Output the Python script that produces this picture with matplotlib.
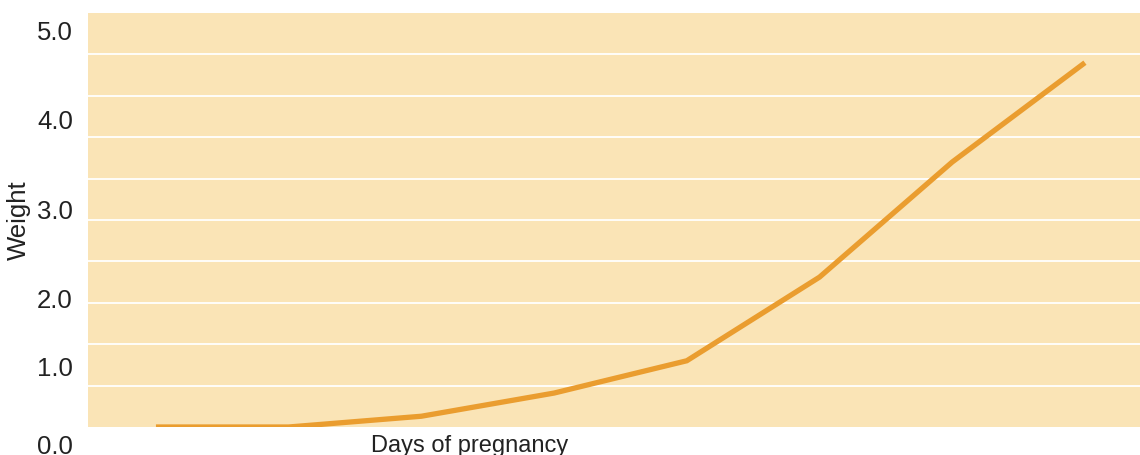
import numpy as np
import matplotlib
matplotlib.use("Agg")
import matplotlib.pyplot as plt
import matplotlib.transforms as mtransforms

# Data
stages = [0, 1, 2, 3, 4, 5, 6, 7]
weight = [0.0, 0.0, 0.13, 0.41, 0.80, 1.81, 3.20, 4.40]

# Y labels as they appear on the reference (positions in data units)
ylabel_texts = ["5.0", "4.0", "3.0", "2.0", "1.0", "0.0"]
ylabel_pos = [4.674, 3.599, 2.512, 1.437, 0.616, -0.326]
grid_levels = [0.5, 1.0, 1.5, 2.0, 2.5, 3.0, 3.5, 4.0, 4.5]

plt.rcParams['font.family'] = ['Liberation Sans', 'DejaVu Sans']

W, H = 1140, 455
fig = plt.figure(figsize=(W / 100, H / 100), dpi=100)
ax = fig.add_axes([88 / W, (H - 427) / H, (W - 88) / W, (427 - 13) / H])
ax.set_facecolor('#FAE4B6')
for s in ax.spines.values():
    s.set_visible(False)

ax.set_xlim(-0.512, 7.415)
ax.set_ylim(0, 5)
ax.set_xticks([])
ax.set_yticks(grid_levels)
ax.set_yticklabels([])
ax.tick_params(axis='y', length=0)
ax.grid(axis='y', color='white', linewidth=1.3)
ax.set_axisbelow(True)

ax.plot(stages, weight, color='#EA9D2F', linewidth=3.8, solid_capstyle='butt',
        solid_joinstyle='miter', zorder=3)

trans = mtransforms.blended_transform_factory(ax.transAxes, ax.transData)
for t, p in zip(ylabel_texts, ylabel_pos):
    ax.text(-15 / (W - 88), p, t, transform=trans, ha='right', va='baseline',
            fontsize=18.5, color='#222222', clip_on=False)

fig.text(19 / W, 1 - 220 / H, "Weight", rotation=90, ha='center', va='center',
         fontsize=18.5, color='#222222')
fig.text(470 / W, (H - 452) / H, "Days of pregnancy", ha='center', va='baseline',
         fontsize=17, color='#222222')

fig.savefig('out.png', dpi=100)
